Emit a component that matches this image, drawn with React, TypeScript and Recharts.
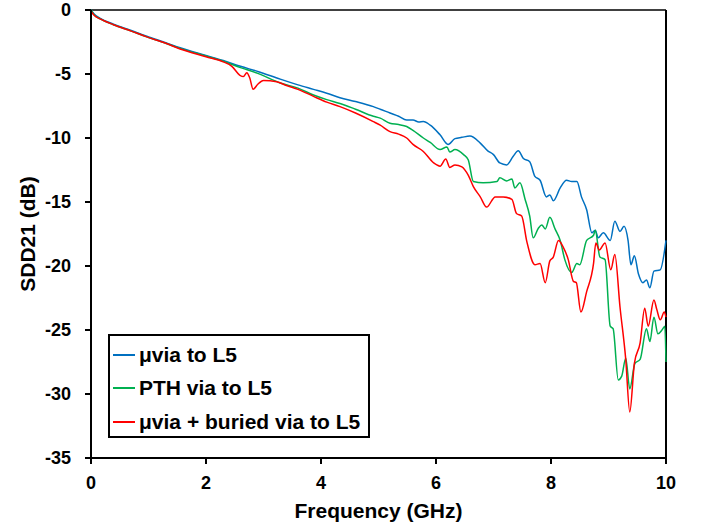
import React from 'react';
import { LineChart, Line, XAxis, YAxis, Legend, Label, ReferenceLine } from 'recharts';

const xTicks = [0, 2, 4, 6, 8, 10];
const yTicks = [0, -5, -10, -15, -20, -25, -30, -35];

const seriesNames = ['μvia to L5', 'PTH via to L5', 'μvia + buried via to L5'];
const seriesColors = ['#0070C0', '#00B050', '#FF0000'];

const blueFreq = [0, 0.05, 0.16, 0.39, 0.7, 0.97, 1.3, 1.55, 2.0, 2.3, 2.6, 2.9, 3.29, 3.6, 3.87, 4.1, 4.33, 4.6, 4.91, 5.03, 5.2, 5.35, 5.49, 5.6, 5.7, 5.78, 5.9, 6.07, 6.21, 6.33, 6.45, 6.59, 6.77, 6.9, 7.0, 7.11, 7.23, 7.34, 7.43, 7.52, 7.63, 7.72, 7.81, 7.92, 7.98, 8.04, 8.16, 8.27, 8.36, 8.45, 8.53, 8.62, 8.71, 8.77, 8.82, 8.91, 9.03, 9.11, 9.2, 9.27, 9.34, 9.39, 9.45, 9.52, 9.6, 9.66, 9.72, 9.79, 9.9, 10.0];
const blueDb = [0, -0.3, -0.65, -1.1, -1.6, -2.05, -2.55, -2.95, -3.55, -3.95, -4.4, -4.8, -5.4, -5.85, -6.2, -6.5, -6.85, -7.15, -7.55, -7.75, -8.05, -8.3, -8.6, -8.6, -8.75, -8.72, -9.0, -9.75, -10.5, -10.05, -9.95, -9.85, -10.4, -11.0, -11.3, -11.95, -12.1, -11.45, -11.0, -11.6, -11.85, -13.0, -13.3, -14.6, -14.45, -14.9, -13.9, -13.3, -13.4, -13.4, -14.6, -15.6, -17.4, -17.2, -17.8, -17.4, -18.0, -16.5, -17.3, -16.9, -18.0, -19.9, -19.2, -20.6, -21.3, -21.1, -21.7, -20.4, -20.3, -18.0];

const greenFreq = [0, 0.05, 0.16, 0.39, 0.7, 0.97, 1.3, 1.55, 2.0, 2.3, 2.6, 2.9, 3.29, 3.6, 3.87, 4.1, 4.33, 4.6, 4.91, 5.03, 5.2, 5.35, 5.49, 5.6, 5.78, 5.9, 6.07, 6.19, 6.24, 6.33, 6.48, 6.56, 6.65, 6.82, 7.06, 7.11, 7.23, 7.32, 7.37, 7.46, 7.55, 7.63, 7.69, 7.78, 7.84, 7.9, 7.98, 8.07, 8.16, 8.24, 8.36, 8.45, 8.5, 8.62, 8.74, 8.77, 8.85, 8.94, 9.03, 9.08, 9.17, 9.23, 9.3, 9.37, 9.46, 9.55, 9.66, 9.72, 9.79, 9.86, 9.93, 9.98, 10.0];
const greenDb = [0, -0.35, -0.7, -1.15, -1.65, -2.1, -2.6, -3.0, -3.6, -4.0, -4.5, -4.95, -5.7, -6.1, -6.64, -7.0, -7.3, -7.75, -8.3, -8.45, -8.85, -8.95, -9.1, -9.4, -10.0, -10.35, -10.9, -10.7, -11.1, -10.9, -11.3, -11.7, -13.4, -13.5, -13.4, -13.1, -13.35, -13.2, -13.9, -13.5, -14.8, -16.1, -17.8, -17.05, -16.8, -17.1, -16.2, -17.1, -18.0, -19.5, -20.5, -19.8, -19.9, -18.0, -17.6, -17.2, -19.3, -19.5, -24.7, -24.9, -28.9, -28.6, -27.2, -29.6, -27.6, -27.3, -24.9, -25.9, -24.0, -25.3, -25.0, -24.7, -27.5];

const redFreq = [0, 0.05, 0.16, 0.39, 0.7, 0.97, 1.3, 1.55, 2.0, 2.3, 2.45, 2.59, 2.65, 2.71, 2.76, 2.82, 2.9, 3.0, 3.23, 3.4, 3.6, 3.87, 4.1, 4.33, 4.6, 4.91, 5.03, 5.2, 5.35, 5.49, 5.6, 5.78, 5.96, 6.07, 6.17, 6.24, 6.33, 6.45, 6.56, 6.65, 6.77, 6.88, 7.03, 7.17, 7.32, 7.4, 7.49, 7.58, 7.72, 7.81, 7.9, 7.98, 8.04, 8.13, 8.21, 8.3, 8.39, 8.44, 8.52, 8.62, 8.74, 8.78, 8.84, 8.94, 9.04, 9.11, 9.2, 9.3, 9.37, 9.45, 9.55, 9.63, 9.69, 9.79, 9.84, 9.9, 9.97, 10.0];
const redDb = [-0.1, -0.4, -0.7, -1.15, -1.65, -2.1, -2.6, -3.05, -3.65, -4.05, -4.4, -5.1, -5.2, -4.9, -5.3, -6.2, -5.8, -5.5, -5.6, -5.9, -6.2, -6.75, -7.2, -7.55, -8.05, -8.72, -9.0, -9.5, -9.7, -10.0, -10.5, -11.05, -11.95, -12.2, -11.65, -12.3, -12.1, -12.25, -12.9, -13.8, -14.6, -15.4, -14.6, -14.6, -14.8, -15.9, -16.1, -18.1, -19.9, -19.8, -21.3, -19.6, -19.3, -18.0, -18.5, -19.5, -21.2, -21.3, -23.6, -22.0, -19.8, -18.2, -18.75, -18.2, -20.3, -19.1, -23.2, -27.3, -31.4, -27.6, -26.0, -23.3, -24.7, -22.65, -23.4, -24.2, -23.6, -24.0];

const zip = (f: number[], d: number[]) => f.map((x, i) => ({ f: x, db: d[i] }));
const seriesData = [zip(blueFreq, blueDb), zip(greenFreq, greenDb), zip(redFreq, redDb)];

const FONT = '"Liberation Sans", Arial, sans-serif';

const LegendBox = () => (
  <div
    style={{
      width: 262,
      height: 104,
      boxSizing: 'border-box',
      border: '2px solid #000',
      background: '#fff',
      fontFamily: FONT,
      fontWeight: 'bold',
      fontSize: 21,
      color: '#000',
      paddingTop: 2,
    }}
  >
    {seriesNames.map((name, i) => (
      <div key={name} style={{ display: 'flex', alignItems: 'center', height: 33.5, whiteSpace: 'nowrap' }}>
        <div style={{ width: 22, height: 2, background: seriesColors[i], marginLeft: 3, marginRight: 4 }} />
        <span>{name}</span>
      </div>
    ))}
  </div>
);

const YTitle = (props: any) => {
  const vb = props.viewBox || { x: 0, y: 0, width: 0, height: 0 };
  const cx = 27;
  const cy = vb.y + vb.height / 2;
  return (
    <text
      x={cx}
      y={cy}
      transform={`rotate(-90 ${cx} ${cy})`}
      textAnchor="middle"
      dominantBaseline="central"
      fontFamily={FONT}
      fontWeight="bold"
      fontSize={21}
      fill="#000"
    >
      SDD21 (dB)
    </text>
  );
};

export default function App() {
  return (
    <div style={{ position: 'absolute', left: 0, top: 0, background: '#fff' }}>
      <LineChart width={702} height={527} margin={{ top: 10, right: 36, bottom: 0, left: 0 }}>
        <XAxis
          dataKey="f"
          type="number"
          domain={[0, 10]}
          ticks={xTicks}
          interval={0}
          allowDuplicatedCategory={false}
          height={69}
          axisLine={{ stroke: '#000', strokeWidth: 2 }}
          tickLine={{ stroke: '#000', strokeWidth: 2 }}
          tickSize={6}
          tickMargin={12}
          tick={{ fontFamily: FONT, fontWeight: 'bold', fontSize: 18, fill: '#000' }}
        >
          <Label
            value="Frequency (GHz)"
            position="insideBottom"
            offset={9}
            style={{ fontFamily: FONT, fontWeight: 'bold', fontSize: 21, fill: '#000' }}
          />
        </XAxis>
        <YAxis
          type="number"
          domain={[-35, 0]}
          ticks={yTicks}
          interval={0}
          width={91}
          axisLine={{ stroke: '#000', strokeWidth: 2 }}
          tickLine={{ stroke: '#000', strokeWidth: 2 }}
          tickSize={6}
          tickMargin={14}
          tick={{ fontFamily: FONT, fontWeight: 'bold', fontSize: 18, fill: '#000' }}
        >
          <Label content={<YTitle />} />
        </YAxis>
        <ReferenceLine y={0} stroke="#404040" strokeWidth={2} ifOverflow="visible" />
        <ReferenceLine x={10} stroke="#000" strokeWidth={2} ifOverflow="visible" />
        {seriesData.map((d, i) => (
          <Line
            key={seriesNames[i]}
            data={d}
            dataKey="db"
            name={seriesNames[i]}
            type="monotone"
            stroke={seriesColors[i]}
            strokeWidth={1.5}
            dot={false}
            activeDot={false}
            isAnimationActive={false}
          />
        ))}
        <Legend
          layout="horizontal"
          verticalAlign="middle"
          align="center"
          content={<LegendBox />}
          wrapperStyle={{ left: 108, top: 334, width: 262, height: 104 }}
        />
      </LineChart>
    </div>
  );
}
